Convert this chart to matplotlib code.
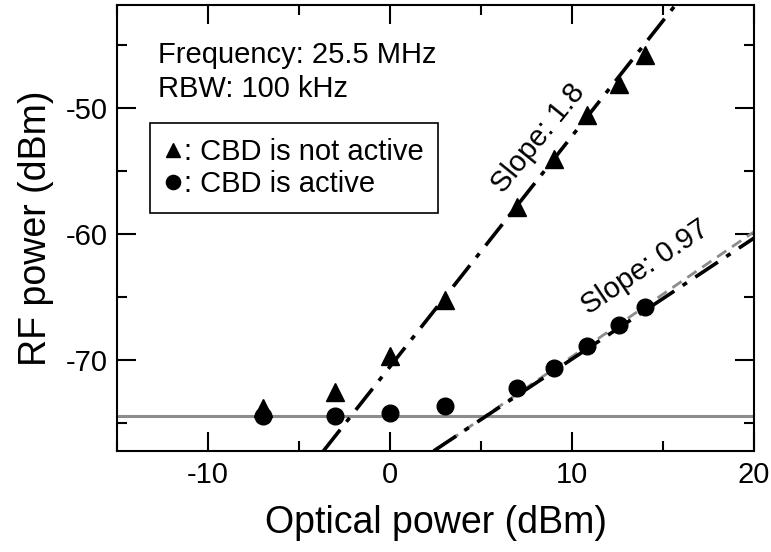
import matplotlib
matplotlib.use('Agg')
import matplotlib.pyplot as plt
import numpy as np

plt.rcParams['font.family'] = ['Liberation Sans', 'DejaVu Sans']
plt.rcParams['axes.unicode_minus'] = False

opt_power = [-7, -3, 0, 3, 7, 9, 10.8, 12.6, 14]
rf_not_active = [-73.8, -72.5, -69.7, -65.2, -57.8, -54.0, -50.5, -48.1, -45.8]
rf_active = [-74.4, -74.4, -74.2, -73.6, -72.2, -70.6, -68.9, -67.2, -65.8]

noise_floor = -74.4

# linear fits (slope, intercept)
fit_not_active = (1.83, -70.5)
fit_active = (0.96, -79.5)
fit_active_gray = (0.99, -79.6)

x_ticks = [-10, 0, 10, 20]
y_ticks = [-70, -60, -50]

fs = 21

fig = plt.figure(figsize=(7.71, 5.52), dpi=100)
ax = fig.add_axes([0.1518, 0.183, 0.8262, 0.808])

ax.axhline(noise_floor, color='#8c8c8c', lw=2.2, zorder=1)

# fit lines
dashdot = (7.5, 2.8, 1.4, 2.8)
ax.axline((0, fit_active_gray[1]), slope=fit_active_gray[0], color='#8c8c8c',
          lw=2.0, dashes=(4, 2.5), zorder=2)
ax.axline((0, fit_active[1]), slope=fit_active[0], color='black',
          lw=2.6, dashes=dashdot, zorder=3)
ax.axline((0, fit_not_active[1]), slope=fit_not_active[0], color='black',
          lw=2.6, dashes=dashdot, zorder=3)

tri, = ax.plot(opt_power, rf_not_active, '^', color='black', ms=12.5, ls='none', zorder=4)
circ, = ax.plot(opt_power, rf_active, 'o', color='black', ms=12, ls='none', zorder=4)

ax.set_xlim(-15, 20)
ax.set_ylim(-77.2, -41.8)
ax.set_xticks(x_ticks)
ax.set_yticks(y_ticks)
ax.set_xticks(np.arange(-15, 21, 5), minor=True)
ax.set_yticks(np.arange(-75, -41, 5), minor=True)
ax.tick_params(which='both', direction='in', top=True, right=True, width=1.5,
               labelsize=fs, pad=7)
ax.tick_params(which='major', length=14)
ax.tick_params(which='minor', length=7)
for s in ax.spines.values():
    s.set_linewidth(1.5)

ax.set_xlabel('Optical power (dBm)', fontsize=27, labelpad=12)
ax.set_ylabel('RF power (dBm)', fontsize=27, labelpad=8)

ax.text(0.0645, 0.870, 'Frequency: 25.5 MHz', transform=ax.transAxes, fontsize=fs, va='baseline')
ax.text(0.0645, 0.794, 'RBW: 100 kHz', transform=ax.transAxes, fontsize=fs, va='baseline')

ax.text(8.15, -52.4, 'Slope: 1.8', rotation=51, fontsize=fs, ha='center', va='center')
ax.text(14.0, -62.6, 'Slope: 0.97', rotation=34, fontsize=fs, ha='center', va='center')

leg = ax.legend([tri, circ], [': CBD is not active', ': CBD is active'],
                loc='upper left', bbox_to_anchor=(0.052, 0.735), borderaxespad=0,
                fontsize=fs, markerscale=0.85, handlelength=0.6, handletextpad=0.05,
                fancybox=False, framealpha=1, edgecolor='black',
                borderpad=0.5, labelspacing=0.15)
leg.get_frame().set_linewidth(1.2)

fig.savefig('out.png', dpi=100)
